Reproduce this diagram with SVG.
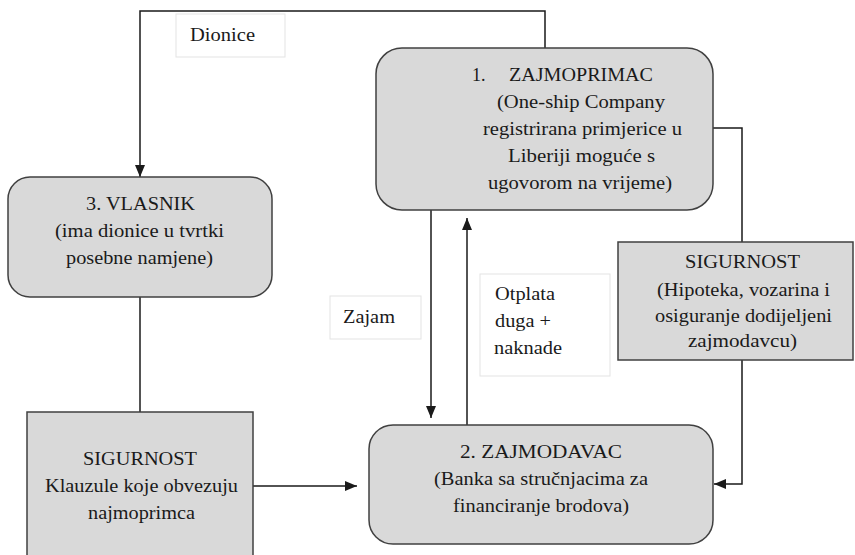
<svg xmlns="http://www.w3.org/2000/svg" width="855" height="555" viewBox="0 0 855 555">
<style>
.node{fill:#d9d9d9;stroke:#404040;stroke-width:1.5}
.lbl{fill:#ffffff;stroke:#e3e3e3;stroke-width:1}
.t{font-family:"Liberation Serif","Times New Roman",serif;font-size:18px;fill:#1a1a1a}
.c{fill:none;stroke:#1a1a1a;stroke-width:1.5}
</style>
<defs>
<marker id="ah" markerUnits="userSpaceOnUse" markerWidth="12" markerHeight="10" refX="12" refY="5" orient="auto">
<path d="M0,0 L12,5 L0,10 Z" fill="#1a1a1a"/>
</marker>
</defs>
<rect width="855" height="555" fill="#ffffff"/>
<g id="connectors">
<path class="c" d="M545,48 V11 H140 V177" marker-end="url(#ah)"/>
<path class="c" d="M140,297 V412"/>
<path class="c" d="M253,486 H357" marker-end="url(#ah)"/>
<path class="c" d="M431,210 V418" marker-end="url(#ah)"/>
<path class="c" d="M467,425 V218" marker-end="url(#ah)"/>
<path class="c" d="M713,128 H742 V484 H714" marker-end="url(#ah)"/>
</g>
<g id="label-dionice">
<rect class="lbl" x="176" y="14" width="109" height="43"/>
<text class="t" x="190" y="41" textLength="65" lengthAdjust="spacingAndGlyphs">Dionice</text>
</g>
<g id="label-zajam">
<rect class="lbl" x="330" y="296" width="91" height="43"/>
<text class="t" x="343" y="323" textLength="52" lengthAdjust="spacingAndGlyphs">Zajam</text>
</g>
<g id="label-otplata">
<rect class="lbl" x="480" y="274" width="130" height="102"/>
<text class="t" x="495" y="300" textLength="60" lengthAdjust="spacingAndGlyphs">Otplata</text>
<text class="t" x="495" y="327" textLength="56" lengthAdjust="spacingAndGlyphs">duga +</text>
<text class="t" x="494" y="354" textLength="68" lengthAdjust="spacingAndGlyphs">naknade</text>
</g>
<g id="zajmoprimac">
<rect class="node" x="376" y="48" width="337" height="162" rx="26"/>
<text class="t" y="81"><tspan x="472">1.</tspan><tspan x="509" textLength="144" lengthAdjust="spacingAndGlyphs">ZAJMOPRIMAC</tspan></text>
<text class="t" x="497" y="108" textLength="168" lengthAdjust="spacingAndGlyphs">(One-ship Company</text>
<text class="t" x="483" y="135" textLength="199" lengthAdjust="spacingAndGlyphs">registrirana primjerice u</text>
<text class="t" x="508" y="162" textLength="147" lengthAdjust="spacingAndGlyphs">Liberiji moguće s</text>
<text class="t" x="488" y="189" textLength="184" lengthAdjust="spacingAndGlyphs">ugovorom na vrijeme)</text>
</g>
<g id="vlasnik">
<rect class="node" x="8" y="177" width="264" height="120" rx="22"/>
<text class="t" x="86" y="210" textLength="109" lengthAdjust="spacingAndGlyphs">3. VLASNIK</text>
<text class="t" x="55" y="237" textLength="169" lengthAdjust="spacingAndGlyphs">(ima dionice u tvrtki</text>
<text class="t" x="66" y="264" textLength="147" lengthAdjust="spacingAndGlyphs">posebne namjene)</text>
</g>
<g id="sigurnost-right">
<rect class="node" x="618" y="242" width="235" height="118"/>
<text class="t" x="685" y="268" textLength="115" lengthAdjust="spacingAndGlyphs">SIGURNOST</text>
<text class="t" x="657" y="296" textLength="173" lengthAdjust="spacingAndGlyphs">(Hipoteka, vozarina i</text>
<text class="t" x="655" y="322" textLength="177" lengthAdjust="spacingAndGlyphs">osiguranje dodijeljeni</text>
<text class="t" x="688" y="347" textLength="109" lengthAdjust="spacingAndGlyphs">zajmodavcu)</text>
</g>
<g id="sigurnost-left">
<rect class="node" x="27" y="412" width="226" height="150"/>
<text class="t" x="83" y="465" textLength="114" lengthAdjust="spacingAndGlyphs">SIGURNOST</text>
<text class="t" x="45" y="492" textLength="193" lengthAdjust="spacingAndGlyphs">Klauzule koje obvezuju</text>
<text class="t" x="88" y="519" textLength="107" lengthAdjust="spacingAndGlyphs">najmoprimca</text>
</g>
<g id="zajmodavac">
<rect class="node" x="369" y="425" width="344" height="119" rx="24"/>
<text class="t" x="460" y="458" textLength="162" lengthAdjust="spacingAndGlyphs">2. ZAJMODAVAC</text>
<text class="t" x="434" y="485" textLength="214" lengthAdjust="spacingAndGlyphs">(Banka sa stručnjacima za</text>
<text class="t" x="453" y="512" textLength="176" lengthAdjust="spacingAndGlyphs">financiranje brodova)</text>
</g>
</svg>
